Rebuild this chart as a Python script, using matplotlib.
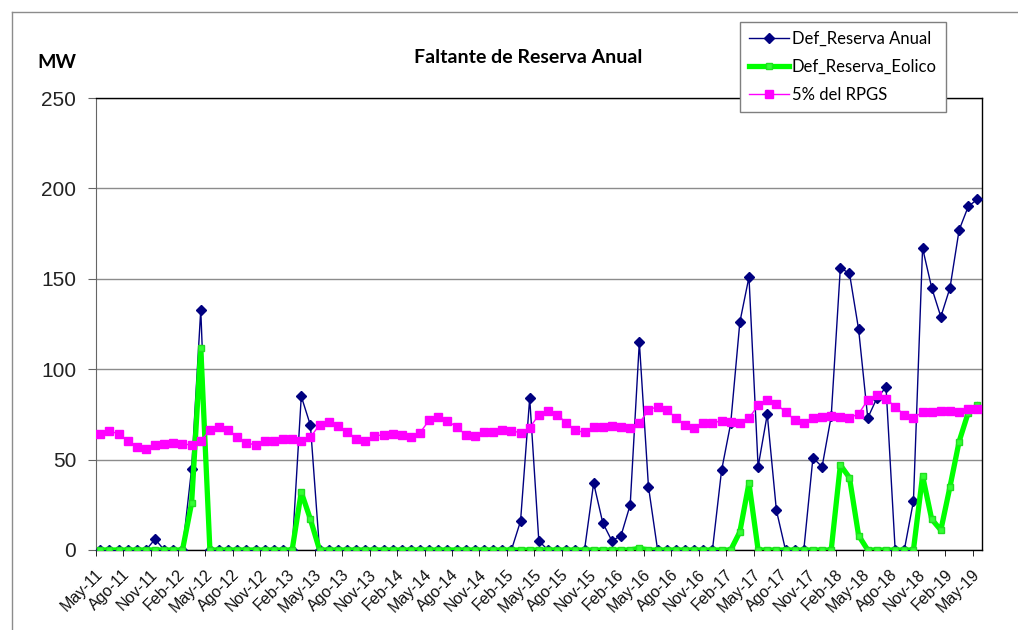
import matplotlib
matplotlib.use('Agg')
import matplotlib.pyplot as plt
from matplotlib.lines import Line2D
import numpy as np

# monthly values May-11 .. May-19 (MW)
def_reserva_anual = [0, 0, 0, 0, 0, 0, 6, 0, 0, 0, 45, 133,
                     0, 0, 0, 0, 0, 0, 0, 0, 0, 0, 85, 69,
                     0, 0, 0, 0, 0, 0, 0, 0, 0, 0, 0, 0,
                     0, 0, 0, 0, 0, 0, 0, 0, 0, 0, 16, 84,
                     5, 0, 0, 0, 0, 0, 37, 15, 5, 8, 25, 115,
                     35, 0, 0, 0, 0, 0, 0, 0, 44, 70, 126, 151,
                     46, 75, 22, 0, 0, 0, 51, 46, 74, 156, 153, 122,
                     73, 84, 90, 0, 0, 27, 167, 145, 129, 145, 177, 190,
                     194]
def_reserva_eolico = [0, 0, 0, 0, 0, 0, 0, 0, 0, 0, 26, 112,
                      0, 0, 0, 0, 0, 0, 0, 0, 0, 0, 32, 17,
                      0, 0, 0, 0, 0, 0, 0, 0, 0, 0, 0, 0,
                      0, 0, 0, 0, 0, 0, 0, 0, 0, 0, 0, 0,
                      0, 0, 0, 0, 0, 0, 0, 0, 0, 0, 0, 1,
                      0, 0, 0, 0, 0, 0, 0, 0, 0, 0, 10, 37,
                      0, 0, 0, 0, 0, 0, 0, 0, 0, 47, 40, 8,
                      0, 0, 0, 0, 0, 0, 41, 17, 11, 35, 60, 76,
                      80]
rpgs_5pct = [64.2, 65.9, 64.2, 60.5, 57.0, 56.1, 58.3, 58.7, 59.0, 58.9, 57.9, 60.1,
             66.4, 68.3, 66.4, 62.7, 59.0, 58.3, 60.5, 60.5, 61.3, 61.3, 60.1, 62.4,
             69.2, 71.0, 68.8, 65.5, 61.6, 60.5, 63.1, 63.7, 64.0, 63.7, 62.5, 64.9,
             71.8, 73.8, 71.6, 67.9, 63.8, 62.9, 65.3, 65.3, 66.1, 65.9, 64.9, 67.7,
             74.7, 76.8, 74.7, 70.5, 66.1, 65.1, 68.1, 68.1, 68.8, 68.3, 67.3, 70.1,
             77.5, 79.3, 77.5, 73.1, 69.0, 67.7, 70.1, 70.1, 71.6, 71.0, 70.1, 72.9,
             80.1, 83.0, 80.6, 76.4, 72.0, 70.3, 73.2, 73.6, 74.2, 73.8, 73.1, 75.3,
             83.0, 85.8, 83.6, 79.3, 74.7, 73.2, 76.2, 76.2, 77.1, 76.9, 76.2, 78.2,
             78.2]
tick_labels = ['May-11', 'Ago-11', 'Nov-11', 'Feb-12', 'May-12', 'Ago-12', 'Nov-12',
               'Feb-13', 'May-13', 'Ago-13', 'Nov-13', 'Feb-14', 'May-14', 'Ago-14',
               'Nov-14', 'Feb-15', 'May-15', 'Ago-15', 'Nov-15', 'Feb-16', 'May-16',
               'Ago-16', 'Nov-16', 'Feb-17', 'May-17', 'Ago-17', 'Nov-17', 'Feb-18',
               'May-18', 'Ago-18', 'Nov-18', 'Feb-19', 'May-19']

x = np.arange(len(rpgs_5pct))

fig = plt.figure(figsize=(10.18, 6.3), dpi=100)
ax = fig.add_axes([0.094, 0.127, 0.8706, 0.7174])

ax.plot(x, def_reserva_anual, color='#000080', lw=1, marker='D', ms=5,
        label='Def_Reserva Anual', zorder=3)
ax.plot(x, def_reserva_eolico, color='#00ff00', lw=3.8, marker='s', ms=4,
        mfc='#33ff33', mec='#22dd22', label='Def_Reserva_Eolico', zorder=4)
ax.plot(x, rpgs_5pct, color='#ff00ff', lw=1, marker='s', ms=6,
        label='5% del RPGS', zorder=5)

ax.set_xlim(-0.5, len(x) - 0.5)
ax.set_ylim(0, 250)
ax.set_yticks([0, 50, 100, 150, 200, 250])
ax.yaxis.grid(True, color='#8c8c8c', lw=1)
ax.set_axisbelow(True)

ax.set_xticks(x[::3])
ax.set_xticklabels(tick_labels, rotation=45, ha='right', va='center',
                   rotation_mode='anchor', fontsize=11.5,
                   family='Liberation Sans', color='#111111')
ax.set_xticks(np.arange(-0.5, len(x) - 1, 3), minor=True)
ax.tick_params(axis='x', which='major', length=0, pad=16)
ax.tick_params(axis='x', which='minor', length=4, direction='out', color='black')
ax.tick_params(axis='y', length=6, direction='out', color='#666666', pad=8,
               labelsize=15, labelcolor='#222222')
for lab in ax.get_yticklabels():
    lab.set_family('Liberation Sans')

for s in ['top', 'right', 'bottom']:
    ax.spines[s].set_color('black')
    ax.spines[s].set_linewidth(1)
ax.spines['left'].set_color('#666666')

fig.text(0.519, 0.908, 'Faltante de Reserva Anual', ha='center', va='center',
         fontsize=14, fontweight='bold', family='Lato')
fig.text(0.037, 0.901, 'MW', ha='left', va='center',
         fontsize=14, fontweight='bold', family='Lato')

leg = ax.legend(loc='upper left', bbox_to_anchor=(740 / 1018, 1 - 22 / 630),
                bbox_transform=fig.transFigure, borderaxespad=0, frameon=True,
                fancybox=False, edgecolor='#7f7f7f', framealpha=1,
                labelspacing=0.7, handlelength=2.4, handletextpad=0.15,
                borderpad=0.55, prop={'family': 'Lato', 'size': 12})
leg.get_frame().set_linewidth(1)

# outer chart border
fig.add_artist(Line2D([12 / 1018, 1], [1 - 12 / 630, 1 - 12 / 630],
                      transform=fig.transFigure, color='#8c8c8c', lw=1))
fig.add_artist(Line2D([12 / 1018, 12 / 1018], [0, 1 - 12 / 630],
                      transform=fig.transFigure, color='#8c8c8c', lw=1))

fig.savefig('out.png', dpi=100, facecolor='white')
